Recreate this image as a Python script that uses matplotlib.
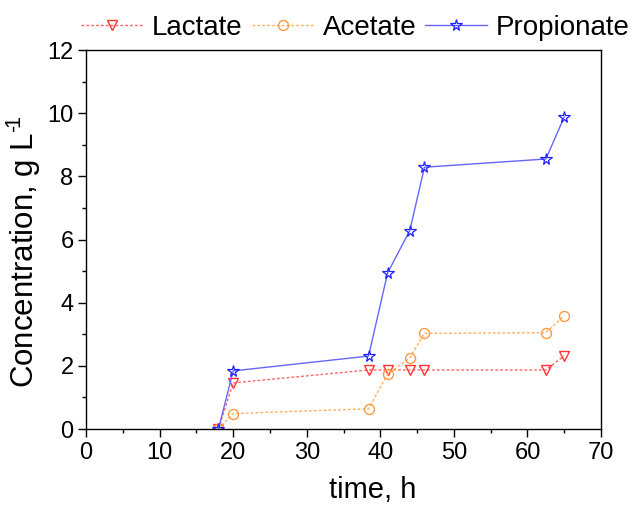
import matplotlib
matplotlib.use("Agg")
import matplotlib.pyplot as plt
from matplotlib.ticker import MultipleLocator

plt.rcParams['font.family'] = ['Liberation Sans', 'DejaVu Sans']
plt.rcParams['mathtext.fontset'] = 'custom'
plt.rcParams['mathtext.rm'] = 'Liberation Sans'
plt.rcParams['mathtext.it'] = 'Liberation Sans'
plt.rcParams['mathtext.default'] = 'regular'

time_h = [18, 20, 38.4, 41, 44, 46, 62.5, 65]
lactate = [0.0, 1.46, 1.87, 1.87, 1.87, 1.87, 1.87, 2.32]
acetate = [0.0, 0.49, 0.64, 1.74, 2.25, 3.03, 3.05, 3.59]
propionate = [0.0, 1.84, 2.31, 4.95, 6.28, 8.29, 8.55, 9.88]

fig = plt.figure(figsize=(6.33, 5.07), dpi=100)
ax = fig.add_axes([0.1359, 0.1538, 0.8136, 0.7475])

ax.plot(time_h, lactate, linestyle=(0, (2, 1.5)), color='#ff6666', lw=1.0,
        marker='v', markersize=7.7, markerfacecolor='none', markeredgecolor='#ff3333',
        markeredgewidth=1.0, label='Lactate')
ax.plot(time_h, acetate, linestyle=(0, (2, 1.5)), color='#ffb060', lw=1.0,
        marker='o', markersize=7.2, markerfacecolor='none', markeredgecolor='#ff9940',
        markeredgewidth=1.0, label='Acetate')
ax.plot(time_h, propionate, linestyle='-', color='#6666ff', lw=1.0,
        marker='*', markersize=8.5, markerfacecolor='none', markeredgecolor='#2222ff',
        markeredgewidth=0.9, label='Propionate')

ax.set_xlim(0, 70)
ax.set_ylim(0, 12)
ax.xaxis.set_major_locator(MultipleLocator(10))
ax.xaxis.set_minor_locator(MultipleLocator(5))
ax.yaxis.set_major_locator(MultipleLocator(2))
ax.yaxis.set_minor_locator(MultipleLocator(1))
ax.tick_params(which='major', direction='out', length=5.5, width=1, labelsize=17, pad=3.5)
ax.tick_params(which='minor', direction='out', length=3, width=1)
for s in ax.spines.values():
    s.set_linewidth(1.0)

ax.set_xlabel('time, h', fontsize=21, labelpad=9)
ax.set_ylabel('Concentration, g L$^{\u2010\\!1}$', fontsize=22.5, labelpad=3)
ax.xaxis.label.set_x(0.557)
ax.yaxis.label.set_y(0.467)

ax.legend(loc='center right', bbox_to_anchor=(0.995, 0.945), bbox_transform=fig.transFigure,
          ncol=3, frameon=False,
          fontsize=20, handlelength=2.23, columnspacing=0.32, handletextpad=0.32,
          borderaxespad=0.0, borderpad=0.0)

fig.savefig('out.png', dpi=100)
